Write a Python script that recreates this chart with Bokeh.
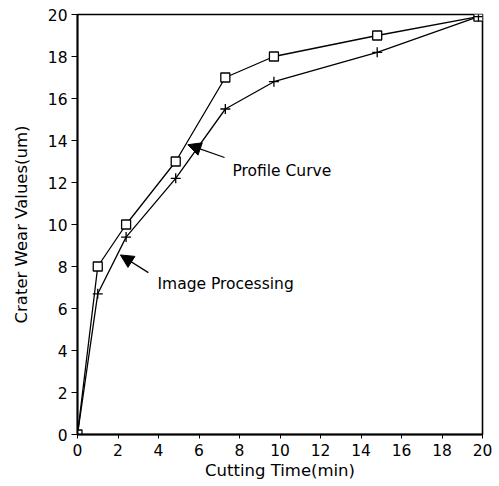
from bokeh.plotting import figure
from bokeh.models import Range1d, FixedTicker, Arrow, NormalHead, Label
from bokeh.embed import file_html
from bokeh.resources import INLINE

# data
cutting_time = [0, 1, 2.4, 4.85, 7.3, 9.7, 14.8, 19.8]
profile_curve = [0, 8.0, 10.0, 13.0, 17.0, 18.0, 19.0, 19.9]
image_processing = [0, 6.7, 9.4, 12.2, 15.5, 16.8, 18.2, 19.9]
x_ticks = [0, 2, 4, 6, 8, 10, 12, 14, 16, 18, 20]
y_ticks = [0, 2, 4, 6, 8, 10, 12, 14, 16, 18, 20]

# annotation positions (data units)
profile_label = (7.65, 12.57, "Profile Curve")
profile_arrow = (7.26, 13.19, 5.45, 13.8)
image_label = (3.95, 7.19, "Image Processing")
image_arrow = (3.5, 7.71, 2.12, 8.55)

FONT = "DejaVu Sans"

p = figure(width=499, height=486, output_backend="svg", toolbar_location=None,
           x_range=Range1d(0, 20), y_range=Range1d(0, 20),
           min_border_left=77, min_border_right=17, min_border_top=14, min_border_bottom=52)
p.grid.visible = False
p.outline_line_color = "black"
p.outline_line_width = 1.6
p.background_fill_color = "white"
p.border_fill_color = "white"

for ax in (p.xaxis[0], p.yaxis[0]):
    ax.axis_line_width = 1.8
    ax.axis_line_color = "black"
    ax.major_tick_line_color = "black"
    ax.major_tick_line_width = 1
    ax.major_tick_in = 0
    ax.minor_tick_line_color = None
    ax.major_label_text_font = FONT
    ax.major_label_text_font_size = "15.5px"
    ax.major_label_text_color = "black"
    ax.axis_label_text_font = FONT
    ax.axis_label_text_font_size = "16.5px"
    ax.axis_label_text_font_style = "normal"
    ax.axis_label_text_color = "black"

p.xaxis.ticker = FixedTicker(ticks=x_ticks)
p.yaxis.ticker = FixedTicker(ticks=y_ticks)
p.xaxis.major_tick_out = 4
p.xaxis.major_label_standoff = 5
p.xaxis.axis_label_standoff = 2
p.yaxis.major_tick_out = 6
p.yaxis.major_label_standoff = 4
p.yaxis.axis_label_standoff = 14
p.xaxis.axis_label = "Cutting Time(min)"
p.yaxis.axis_label = "Crater Wear Values(um)"

p.line(cutting_time, profile_curve, line_color="black", line_width=1.3)
p.line(cutting_time, image_processing, line_color="black", line_width=1.3)
p.scatter(cutting_time, profile_curve, marker="square", size=9, fill_color="white",
          line_color="black", line_width=1.3)
p.scatter(cutting_time, image_processing, marker="cross", size=10,
          line_color="black", line_width=1.3)

for (xs, ys, xe, ye) in (profile_arrow, image_arrow):
    p.add_layout(Arrow(x_start=xs, y_start=ys, x_end=xe, y_end=ye,
                       line_color="black", line_width=1.3,
                       end=NormalHead(size=13, fill_color="black", line_color="black")))

for (lx, ly, txt) in (profile_label, image_label):
    p.add_layout(Label(x=lx, y=ly, text=txt, text_font=FONT, text_font_size="15.5px",
                       text_baseline="middle", text_align="left", text_color="black"))

open("out.html", "w").write(file_html(p, INLINE))
